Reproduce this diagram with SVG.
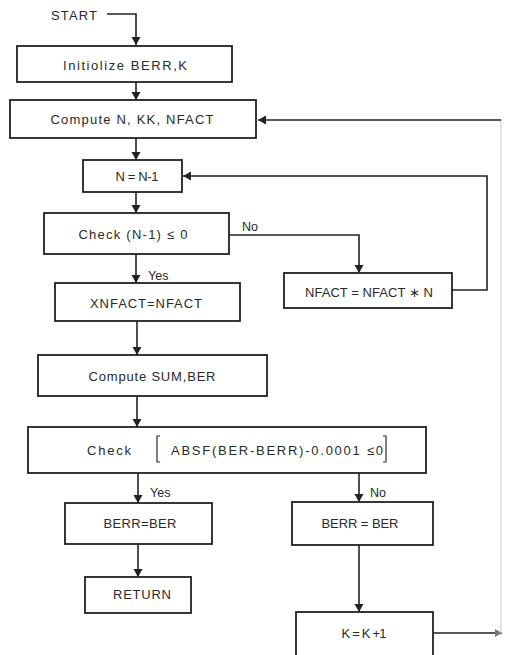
<svg xmlns="http://www.w3.org/2000/svg" width="505" height="655" viewBox="0 0 505 655">
<style>
  .box { fill: #fff; stroke: #222; stroke-width: 1.8; }
  .lbl { font-family: "Liberation Sans", Arial, sans-serif; font-size: 13px; fill: #2a2a2a; text-anchor: middle; dominant-baseline: central; }
  .tag { font-family: "Liberation Sans", Arial, sans-serif; font-size: 12.5px; fill: #2a2a2a; dominant-baseline: central; }
  .con { fill: none; stroke: #222; stroke-width: 1.6; }
  .faint { fill: none; stroke: #d0d0d0; stroke-width: 1.2; }
</style>
<defs>
  <marker id="ah" markerUnits="userSpaceOnUse" markerWidth="10" markerHeight="10" refX="8" refY="4.5" orient="auto">
    <path d="M0,0 L8,4.5 L0,9 Z" fill="#222"/>
  </marker>
  <marker id="ahg" markerUnits="userSpaceOnUse" markerWidth="10" markerHeight="10" refX="7" refY="4" orient="auto">
    <path d="M0,0 L7,4 L0,8 Z" fill="#777"/>
  </marker>
</defs>
<rect width="505" height="655" fill="#fff"/>

<g id="connectors">
  <path class="con" d="M107,14 H136 V45" marker-end="url(#ah)"/>
  <path class="con" d="M136,82 V100" marker-end="url(#ah)"/>
  <path class="con" d="M136,138 V160" marker-end="url(#ah)"/>
  <path class="con" d="M136,192 V213" marker-end="url(#ah)"/>
  <path class="con" d="M136,254 V283" marker-end="url(#ah)"/>
  <path class="con" d="M229,235 H359 V273" marker-end="url(#ah)"/>
  <path class="con" d="M452,290 H487 V176 H183" marker-end="url(#ah)"/>
  <path class="con" d="M137,321 V355" marker-end="url(#ah)"/>
  <path class="con" d="M137,396 V427" marker-end="url(#ah)"/>
  <path class="con" d="M138,473 V503" marker-end="url(#ah)"/>
  <path class="con" d="M138,544 V577" marker-end="url(#ah)"/>
  <path class="con" d="M359,473 V502" marker-end="url(#ah)"/>
  <path class="con" d="M359,545 V612" marker-end="url(#ah)"/>
  <path class="con" d="M433,633 H502" marker-end="url(#ahg)" stroke="#555"/>
  <path class="faint" d="M501,633 V120"/>
  <path class="con" d="M501,120 H258" marker-end="url(#ah)"/>
  <text class="tag" x="242" y="227">No</text>
  <text class="tag" x="148" y="276">Yes</text>
  <text class="tag" x="150" y="493">Yes</text>
  <text class="tag" x="370" y="493">No</text>
</g>

<g id="start">
  <text class="lbl" x="74" y="15" textLength="46" lengthAdjust="spacing">START</text>
</g>
<g id="init">
  <rect class="box" x="17" y="46" width="215" height="36"/>
  <text class="lbl" x="125" y="65" textLength="124" lengthAdjust="spacing">Initiolize  BERR,K</text>
</g>
<g id="compute1">
  <rect class="box" x="10" y="100" width="246" height="38"/>
  <text class="lbl" x="132" y="119" textLength="163" lengthAdjust="spacing">Compute N, KK, NFACT</text>
</g>
<g id="decr">
  <rect class="box" x="83" y="160" width="99" height="32"/>
  <text class="lbl" x="137" y="176" textLength="43" lengthAdjust="spacing">N = N-1</text>
</g>
<g id="check1">
  <rect class="box" x="44" y="213" width="185" height="41"/>
  <text class="lbl" x="133" y="234" textLength="109" lengthAdjust="spacing">Check  (N-1) ≤ 0</text>
</g>
<g id="xnfact">
  <rect class="box" x="55" y="283" width="185" height="38"/>
  <text class="lbl" x="146" y="303" textLength="112" lengthAdjust="spacing">XNFACT=NFACT</text>
</g>
<g id="nfact">
  <rect class="box" x="284" y="273" width="168" height="35"/>
  <text class="lbl" x="369" y="292" textLength="128" lengthAdjust="spacing">NFACT = NFACT ∗ N</text>
</g>
<g id="compute2">
  <rect class="box" x="38" y="355" width="229" height="41"/>
  <text class="lbl" x="152" y="376" textLength="127" lengthAdjust="spacing">Compute SUM,BER</text>
</g>
<g id="check2">
  <rect class="box" x="28" y="427" width="398" height="46"/>
  <text class="lbl" x="109" y="450" textLength="44" lengthAdjust="spacing">Check</text>
  <path d="M160,436 H157 V462 H160" fill="none" stroke="#2a2a2a" stroke-width="1.2"/>
  <text class="lbl" x="277" y="450" textLength="212" lengthAdjust="spacing">ABSF(BER-BERR)-0.0001 ≤0</text>
  <path d="M383,436 H386 V462 H383" fill="none" stroke="#2a2a2a" stroke-width="1.2"/>
</g>
<g id="berr-yes">
  <rect class="box" x="65" y="503" width="147" height="41"/>
  <text class="lbl" x="140" y="523" textLength="73" lengthAdjust="spacing">BERR=BER</text>
</g>
<g id="return">
  <rect class="box" x="85" y="577" width="106" height="36"/>
  <text class="lbl" x="142" y="594" textLength="58" lengthAdjust="spacing">RETURN</text>
</g>
<g id="berr-no">
  <rect class="box" x="292" y="502" width="141" height="43"/>
  <text class="lbl" x="360" y="523" textLength="77" lengthAdjust="spacing">BERR = BER</text>
</g>
<g id="kinc">
  <rect class="box" x="296" y="612" width="137" height="50"/>
  <text class="lbl" x="364" y="633" textLength="45" lengthAdjust="spacing">K = K +1</text>
</g>
</svg>
